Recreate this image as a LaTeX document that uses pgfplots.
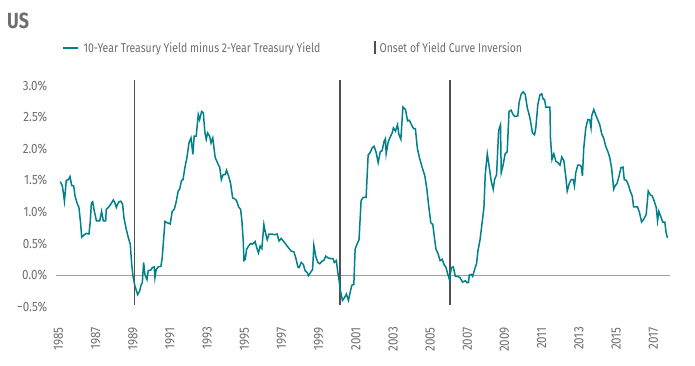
\documentclass[border=0pt]{standalone}
\usepackage{pgfplots}
\usepackage{pgfplotstable}
\pgfplotsset{compat=1.18}
\usepackage{fontspec}
\setmainfont{Fira Sans}[FakeStretch=0.82]
\newfontfamily\tickfont{Fira Sans}[FakeStretch=0.86]
\definecolor{teal1}{HTML}{00808A}
\definecolor{invcol}{HTML}{505050}
\definecolor{zerocol}{HTML}{A0A0A0}
\definecolor{txt}{HTML}{6E6E6E}

\pgfplotstableread{
year val
1985.10 1.48
1985.21 1.41
1985.32 1.17
1985.42 1.50
1985.53 1.51
1985.62 1.56
1985.71 1.42
1985.82 1.41
1985.89 1.25
1986.00 1.14
1986.10 1.07
1986.18 0.85
1986.25 0.60
1986.39 0.64
1986.50 0.66
1986.64 0.65
1986.71 0.85
1986.77 1.14
1986.84 1.16
1986.93 1.01
1987.04 0.86
1987.22 0.86
1987.32 1.01
1987.41 0.86
1987.54 0.86
1987.57 1.04
1987.68 1.07
1987.81 1.12
1987.95 1.19
1988.04 1.14
1988.11 1.07
1988.18 1.12
1988.25 1.16
1988.36 1.17
1988.45 1.12
1988.52 0.91
1988.65 0.72
1988.76 0.59
1988.86 0.49
1988.94 0.17
1989.01 -0.02
1989.11 -0.17
1989.26 -0.31
1989.37 -0.25
1989.44 -0.16
1989.51 -0.12
1989.58 0.20
1989.65 0.01
1989.76 -0.07
1989.83 0.07
1989.97 0.08
1990.05 0.12
1990.15 0.13
1990.19 -0.04
1990.26 0.09
1990.37 0.13
1990.51 0.14
1990.58 0.27
1990.66 0.59
1990.73 0.85
1990.84 0.83
1991.01 0.81
1991.12 1.01
1991.23 1.04
1991.34 1.17
1991.44 1.33
1991.52 1.36
1991.62 1.50
1991.70 1.51
1991.80 1.70
1991.91 1.86
1992.02 2.09
1992.13 2.17
1992.23 1.91
1992.30 2.20
1992.41 2.20
1992.52 2.54
1992.59 2.46
1992.70 2.59
1992.79 2.57
1992.88 2.25
1992.95 2.15
1993.02 2.25
1993.13 2.20
1993.21 2.09
1993.30 2.17
1993.43 1.86
1993.58 1.76
1993.68 1.70
1993.76 1.51
1993.86 1.59
1993.97 1.59
1994.04 1.66
1994.15 1.57
1994.26 1.45
1994.37 1.22
1994.47 1.21
1994.58 1.18
1994.69 1.08
1994.80 1.04
1994.87 0.85
1994.94 0.54
1994.98 0.23
1995.05 0.25
1995.12 0.41
1995.23 0.46
1995.33 0.50
1995.44 0.49
1995.58 0.53
1995.67 0.43
1995.76 0.35
1995.85 0.46
1995.94 0.42
1996.05 0.80
1996.12 0.69
1996.23 0.56
1996.33 0.65
1996.48 0.65
1996.62 0.64
1996.76 0.65
1996.87 0.54
1996.98 0.58
1997.09 0.54
1997.23 0.49
1997.38 0.43
1997.52 0.38
1997.66 0.37
1997.77 0.27
1997.88 0.13
1997.95 0.12
1998.06 0.20
1998.17 0.17
1998.27 0.07
1998.38 0.04
1998.45 -0.01
1998.56 0.04
1998.67 0.09
1998.74 0.47
1998.84 0.30
1998.95 0.20
1999.06 0.18
1999.17 0.22
1999.27 0.23
1999.38 0.30
1999.52 0.27
1999.66 0.26
1999.77 0.26
1999.84 0.20
1999.95 0.23
2000.02 0.06
2000.10 -0.09
2000.17 -0.25
2000.28 -0.40
2000.38 -0.36
2000.49 -0.30
2000.60 -0.40
2000.71 -0.25
2000.78 -0.16
2000.89 -0.15
2000.96 0.41
2001.06 0.49
2001.17 0.56
2001.28 1.18
2001.39 1.23
2001.55 1.23
2001.66 1.90
2001.77 1.94
2001.87 2.01
2001.98 2.04
2002.09 1.94
2002.20 1.78
2002.31 1.95
2002.41 1.97
2002.52 2.12
2002.59 2.16
2002.63 1.92
2002.74 2.11
2002.84 2.18
2002.95 2.25
2003.02 2.33
2003.13 2.28
2003.24 2.38
2003.31 2.23
2003.42 2.15
2003.53 2.66
2003.67 2.62
2003.78 2.44
2003.88 2.45
2003.99 2.38
2004.10 2.32
2004.20 2.32
2004.31 2.00
2004.42 1.86
2004.56 1.71
2004.71 1.57
2004.81 1.38
2004.92 1.09
2005.03 0.83
2005.14 0.80
2005.24 0.56
2005.31 0.41
2005.42 0.34
2005.53 0.23
2005.64 0.25
2005.74 0.17
2005.85 0.12
2005.92 0.04
2006.03 -0.07
2006.14 0.12
2006.24 0.13
2006.35 -0.02
2006.49 -0.02
2006.60 -0.04
2006.74 -0.11
2006.89 -0.09
2006.99 -0.12
2007.06 -0.12
2007.10 0.00
2007.21 0.01
2007.28 -0.02
2007.39 0.09
2007.49 0.18
2007.57 0.39
2007.68 0.56
2007.78 0.80
2007.89 1.07
2007.96 1.59
2008.07 1.92
2008.18 1.70
2008.28 1.49
2008.39 1.36
2008.46 1.51
2008.57 1.59
2008.68 2.29
2008.78 2.38
2008.82 1.62
2008.92 1.74
2009.03 1.92
2009.14 1.95
2009.24 2.59
2009.35 2.61
2009.46 2.54
2009.56 2.51
2009.71 2.52
2009.78 2.73
2009.89 2.86
2010.00 2.90
2010.11 2.86
2010.22 2.65
2010.32 2.54
2010.39 2.45
2010.50 2.25
2010.61 2.22
2010.68 2.33
2010.79 2.70
2010.90 2.85
2011.00 2.87
2011.08 2.78
2011.15 2.78
2011.22 2.66
2011.33 2.66
2011.44 2.66
2011.47 2.17
2011.55 1.83
2011.65 1.92
2011.76 1.80
2011.87 1.78
2011.98 1.74
2012.08 1.87
2012.19 1.81
2012.30 1.54
2012.37 1.33
2012.48 1.45
2012.58 1.51
2012.69 1.51
2012.76 1.41
2012.83 1.62
2012.94 1.74
2013.04 1.74
2013.12 1.72
2013.19 1.57
2013.26 2.01
2013.37 2.33
2013.48 2.46
2013.58 2.46
2013.65 2.33
2013.69 2.52
2013.80 2.62
2013.90 2.54
2014.01 2.46
2014.12 2.38
2014.23 2.23
2014.33 2.17
2014.44 2.04
2014.55 1.96
2014.66 1.86
2014.76 1.69
2014.87 1.36
2014.94 1.41
2015.05 1.45
2015.16 1.57
2015.26 1.70
2015.37 1.71
2015.44 1.51
2015.55 1.50
2015.66 1.43
2015.76 1.33
2015.87 1.25
2015.94 1.08
2016.05 1.08
2016.15 1.08
2016.26 0.99
2016.37 0.84
2016.48 0.88
2016.62 0.96
2016.73 1.33
2016.84 1.27
2016.95 1.25
2017.05 1.17
2017.16 1.07
2017.23 0.86
2017.30 1.01
2017.41 0.92
2017.51 0.84
2017.62 0.84
2017.69 0.67
2017.76 0.59
}\spread

\begin{document}
\begin{tikzpicture}
\useasboundingbox (0bp,0bp) rectangle (695bp,366bp);
\node[anchor=west, text=txt, font=\fontsize{22}{22}\selectfont\bfseries, inner sep=0pt] at (7bp,345bp) {US};
\begin{axis}[
  at={(55.7bp,59.3bp)}, anchor=south west,
  scale only axis, width=614.3bp, height=230bp,
  xmin=1984.85, xmax=2017.9, ymin=-0.5, ymax=3.14,
  axis line style={draw=none},
  major tick length=0pt,
  xtick={1985,1987,...,2017},
  xticklabels={1985,1987,1989,1991,1993,1995,1997,1999,2001,2003,2005,2007,2009,2011,2013,2015,2017},
  ytick={-0.5,0,0.5,1,1.5,2,2.5,3},
  yticklabels={−0.5\%,0.0\%,0.5\%,1.0\%,1.5\%,2.0\%,2.5\%,3.0\%},
  tick label style={font=\tickfont\fontsize{13.5}{13.5}\selectfont, text=txt},
  xticklabel style={rotate=90, anchor=east},
  xticklabel shift=17bp,
  yticklabel shift=5bp,
  clip=false,
  legend columns=2,
  legend cell align=left,
  legend style={at={(axis description cs:0,1)}, anchor=west, xshift=6.3bp, yshift=29bp,
    draw=none, fill=none, inner sep=0pt,
    /tikz/every odd column/.append style={column sep=4bp},
    /tikz/every even column/.append style={column sep=54bp},
    nodes={inner sep=0pt, text=txt, font=\fontsize{12.8}{12.8}\selectfont}},
]
\addlegendimage{legend image code/.code={\draw[teal1, line width=2.4bp] (0bp,0bp) -- (15bp,0bp);}}
\addlegendentry{10-Year Treasury Yield minus 2-Year Treasury Yield}
\addlegendimage{legend image code/.code={\draw[invcol, line width=1.2bp] (1bp,-6.5bp) -- (1bp,7bp);}}
\addlegendentry{Onset of Yield Curve Inversion}
\addplot[zerocol, line width=0.8bp, forget plot] coordinates {(1984.85,0) (2017.9,0)};
\addplot[invcol, line width=1.6bp, forget plot] coordinates {(1989.08,-0.47) (1989.08,3.09)};
\addplot[invcol, line width=1.6bp, forget plot] coordinates {(2000.13,-0.47) (2000.13,3.09)};
\addplot[invcol, line width=1.6bp, forget plot] coordinates {(2006.07,-0.47) (2006.07,3.09)};
\addplot[teal1, line width=1.5bp, forget plot] table[x=year,y=val]{\spread};
\end{axis}
\end{tikzpicture}
\end{document}
